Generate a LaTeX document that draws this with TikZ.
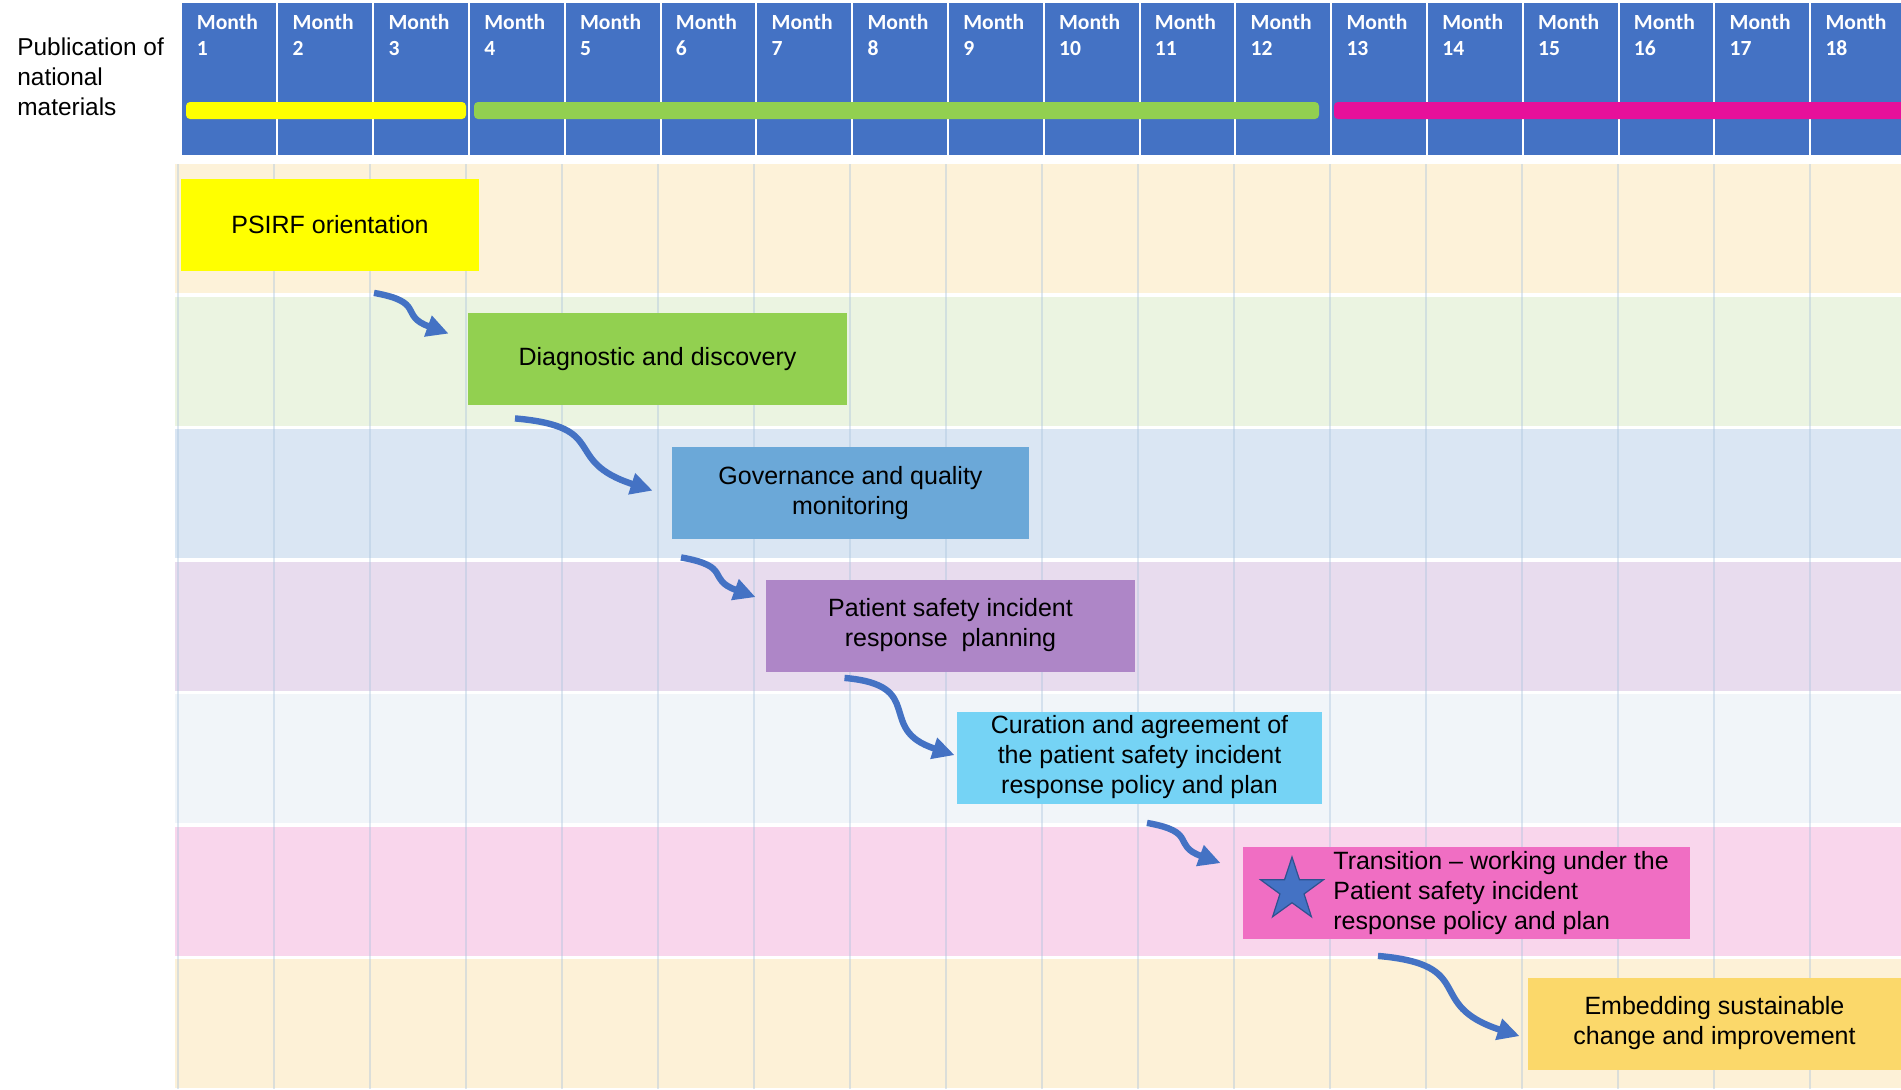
\documentclass[tikz,border=0pt]{standalone}
\usepackage{fontspec}
\setmainfont{Liberation Sans}
\newfontfamily\calibrifont{Carlito}
\usetikzlibrary{arrows.meta,calc,shapes.geometric}

\definecolor{hdrblue}{RGB}{68,114,196}
\definecolor{stardark}{RGB}{47,82,143}
\definecolor{gridblue}{RGB}{170,195,222}
\definecolor{baryellow}{RGB}{255,255,0}
\definecolor{bargreen}{RGB}{146,208,80}
\definecolor{barmagenta}{RGB}{231,16,154}
\definecolor{laneA}{RGB}{253,242,217}
\definecolor{laneB}{RGB}{235,244,225}
\definecolor{laneC}{RGB}{218,230,243}
\definecolor{laneD}{RGB}{232,220,238}
\definecolor{laneE}{RGB}{241,245,249}
\definecolor{laneF}{RGB}{249,214,236}
\definecolor{laneG}{RGB}{253,241,215}
\definecolor{psirfyellow}{RGB}{255,255,0}
\definecolor{diaggreen}{RGB}{146,208,80}
\definecolor{govblue}{RGB}{107,168,216}
\definecolor{planpurple}{RGB}{174,134,199}
\definecolor{curcyan}{RGB}{117,211,245}
\definecolor{transpink}{RGB}{240,110,195}
\definecolor{embedgold}{RGB}{251,216,106}

\newcommand{\boxfont}{\fontsize{12.5}{15}\selectfont}

\begin{document}
\begin{tikzpicture}[x=0.5pt,y=-0.5pt,
    stage/.style={rectangle, inner sep=0pt, align=center, minimum height=46pt, font=\boxfont},
    month/.style={anchor=north west, inner sep=0pt, align=left, text=white,
                  font=\calibrifont\bfseries\fontsize{10.8}{13}\selectfont},
    flow/.style={draw=hdrblue, line width=3.2pt, -{Triangle[length=11pt,width=10.5pt]}, looseness=1.6},
    gridline/.style={draw=gridblue, draw opacity=0.4, line width=1pt}]

  \clip (0,0) rectangle (1901,1089);
  \fill[white] (0,0) rectangle (1901,1089);

  % swim lanes
  \foreach \c [count=\i from 0] in {laneA,laneB,laneC,laneD,laneE,laneF,laneG}
    \fill[\c] (175,{164+132.5*\i}) rectangle (1901,{293+132.5*\i});
  \foreach \k in {0,...,17}
    \draw[gridline] ({178+96*\k},164) -- ({178+96*\k},1089);

  % month header
  \fill[hdrblue] (181.5,3) rectangle (1901,155);
  \foreach \k in {1,...,17}
    \draw[white, line width=1pt] ({181.5+95.8*\k},3) -- ({181.5+95.8*\k},155);
  \foreach \m in {1,...,18}
    \node[month] (m\m) at ({181.5+95.8*(\m-1)+15},14) {Month\\\m};
  \fill[baryellow, rounded corners=2pt] (186,102) rectangle (466,119);
  \fill[bargreen, rounded corners=2pt] (474,102) rectangle (1319,119);
  \fill[barmagenta, rounded corners=2pt] (1334,102) rectangle (1910,119);

  \node[anchor=north west, inner sep=0pt, align=left, font=\fontsize{12.2}{15}\selectfont]
    (pubnote) at (17,37) {Publication of\\national\\materials};

  % stages
  \node[stage, fill=psirfyellow, minimum width=149pt] (psirf) at (330,224.5) {PSIRF orientation};
  \node[stage, fill=diaggreen, minimum width=189.5pt] (diag) at (657.5,359) {Diagnostic and discovery};
  \node[stage, fill=govblue, minimum width=178.5pt] (gov) at (850.5,493) {Governance and quality\\monitoring};
  \node[stage, fill=planpurple, minimum width=184.5pt] (plan) at (950.5,625.5) {Patient safety incident\\response\ \ planning};
  \node[stage, fill=curcyan, minimum width=182.5pt] (cur) at (1139.5,757.5) {Curation and agreement of\\the patient safety incident\\response policy and plan};
  \node[stage, fill=transpink, minimum width=223.5pt] (trans) at (1466.5,892.5) {};
  \node[star, star points=5, star point ratio=2.6, minimum size=33pt, inner sep=0pt,
        fill=hdrblue, draw=stardark, line width=0.6pt] (transstar) at (1292,890) {};
  \node[anchor=west, inner sep=0pt, align=left, font=\boxfont] (transtext) at (1333,893)
    {Transition -- working under the\\Patient safety incident\\response policy and plan};
  \node[stage, fill=embedgold, minimum width=186.5pt] (embed) at (1714.5,1023.5) {Embedding sustainable\\change and improvement};

  % hand-over arrows
  \draw[flow] ($(psirf.south)+(44,22)$) to[out=-10,in=160] ($(diag.north west)+(-19,21)$);
  \draw[flow] ($(diag.south)+(-142.5,13)$) to[out=-5,in=162] ($(gov.north west)+(-19,44)$);
  \draw[flow] ($(gov.south)+(-169.5,18)$) to[out=-10,in=160] ($(plan.north west)+(-10,18)$);
  \draw[flow] ($(plan.south)+(-106,6)$) to[out=-5,in=162] ($(cur.north west)+(-2,44)$);
  \draw[flow] ($(cur.south)+(7.5,19)$) to[out=-10,in=160] ($(trans.north west)+(-22,17)$);
  \draw[flow] ($(trans.south)+(-88.5,17)$) to[out=-5,in=162] ($(embed.north west)+(-8,59)$);
\end{tikzpicture}
\end{document}
